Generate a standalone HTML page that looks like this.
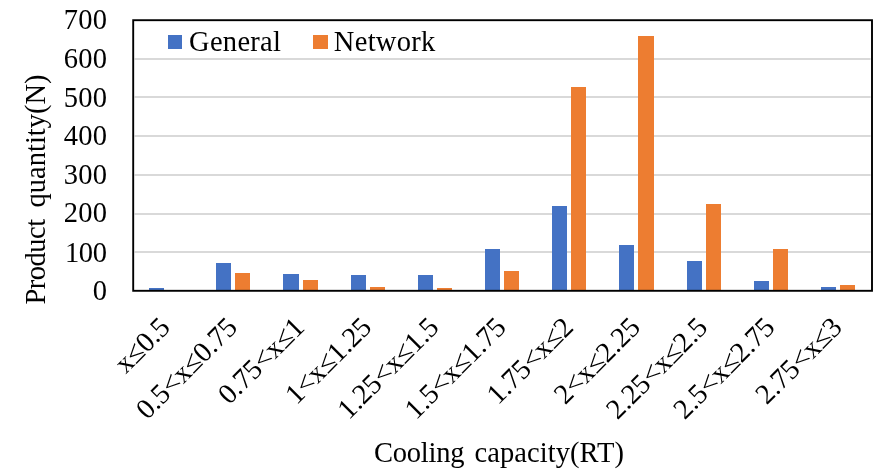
<!DOCTYPE html>
<html lang="en">
<head>
<meta charset="utf-8">
<title>Product quantity by cooling capacity</title>
<style>
html,body{margin:0;padding:0;background:#fff;}
body{width:886px;height:473px;overflow:hidden;}
svg{display:block;}
text{font-family:"Liberation Serif",serif;fill:#000;}
</style>
</head>
<body>
<svg width="886" height="473" viewBox="0 0 886 473">
<rect x="0" y="0" width="886" height="473" fill="#ffffff"/>
<rect x="134.6" y="58" width="736" height="2" fill="#d9d9d9"/>
<rect x="134.6" y="96" width="736" height="2" fill="#d9d9d9"/>
<rect x="134.6" y="135" width="736" height="2" fill="#d9d9d9"/>
<rect x="134.6" y="174" width="736" height="2" fill="#d9d9d9"/>
<rect x="134.6" y="213" width="736" height="2" fill="#d9d9d9"/>
<rect x="134.6" y="251" width="736" height="2" fill="#d9d9d9"/>
<rect x="149" y="288" width="15" height="2" fill="#4472c4"/>
<rect x="216" y="263" width="15" height="27" fill="#4472c4"/>
<rect x="235" y="273" width="15" height="17" fill="#ed7d31"/>
<rect x="283" y="274" width="16" height="16" fill="#4472c4"/>
<rect x="303" y="280" width="15" height="10" fill="#ed7d31"/>
<rect x="351" y="275" width="15" height="15" fill="#4472c4"/>
<rect x="370" y="287" width="15" height="3" fill="#ed7d31"/>
<rect x="418" y="275" width="15" height="15" fill="#4472c4"/>
<rect x="437" y="288" width="15" height="2" fill="#ed7d31"/>
<rect x="485" y="249" width="15" height="41" fill="#4472c4"/>
<rect x="504" y="271" width="15" height="19" fill="#ed7d31"/>
<rect x="552" y="206" width="15" height="84" fill="#4472c4"/>
<rect x="571" y="87" width="15" height="203" fill="#ed7d31"/>
<rect x="619" y="245" width="15" height="45" fill="#4472c4"/>
<rect x="638" y="36" width="16" height="254" fill="#ed7d31"/>
<rect x="687" y="261" width="15" height="29" fill="#4472c4"/>
<rect x="706" y="204" width="15" height="86" fill="#ed7d31"/>
<rect x="754" y="281" width="15" height="9" fill="#4472c4"/>
<rect x="773" y="249" width="15" height="41" fill="#ed7d31"/>
<rect x="821" y="287" width="15" height="3" fill="#4472c4"/>
<rect x="840" y="285" width="15" height="5" fill="#ed7d31"/>
<rect x="133.2" y="20.2" width="738.8" height="270.6" fill="none" stroke="#000" stroke-width="1.9"/>
<rect x="168" y="35" width="14" height="14" fill="#4472c4"/>
<text x="189" y="51" font-size="28.5" letter-spacing="0.3">General</text>
<rect x="313" y="35" width="15" height="14" fill="#ed7d31"/>
<text x="333.8" y="51" font-size="28.5" letter-spacing="0.3">Network</text>
<text x="107.30" y="28.8" font-size="28.5" letter-spacing="0.3" text-anchor="end">700</text>
<text x="107.30" y="68.2" font-size="28.5" letter-spacing="0.3" text-anchor="end">600</text>
<text x="107.30" y="106.6" font-size="28.5" letter-spacing="0.3" text-anchor="end">500</text>
<text x="107.30" y="144.9" font-size="28.5" letter-spacing="0.3" text-anchor="end">400</text>
<text x="107.30" y="183.6" font-size="28.5" letter-spacing="0.3" text-anchor="end">300</text>
<text x="107.30" y="222.4" font-size="28.5" letter-spacing="0.3" text-anchor="end">200</text>
<text x="106.65" y="261.6" font-size="28.5" letter-spacing="-0.35" text-anchor="end">100</text>
<text x="107.00" y="299.8" font-size="28.5" letter-spacing="0" text-anchor="end">0</text>
<text transform="translate(45.2 304.5) rotate(-90)" font-size="28.5"><tspan x="0" letter-spacing="-0.5">Product </tspan><tspan x="97.1">quantity(N)</tspan></text>
<text y="461.5" font-size="28.5"><tspan x="374" letter-spacing="-0.23">Cooling </tspan><tspan x="474.5" letter-spacing="0.07">capacity(RT)</tspan></text>
<text transform="translate(171.4 329) rotate(-45)" font-size="28.5" letter-spacing="-0.22" text-anchor="end">x≤0.5</text>
<text transform="translate(238.6 329) rotate(-45)" font-size="28.5" letter-spacing="-0.22" text-anchor="end">0.5&lt;x≤0.75</text>
<text transform="translate(305.8 329) rotate(-45)" font-size="28.5" letter-spacing="-0.22" text-anchor="end">0.75&lt;x≤1</text>
<text transform="translate(373.0 329) rotate(-45)" font-size="28.5" letter-spacing="-0.22" text-anchor="end">1&lt;x≤1.25</text>
<text transform="translate(440.2 329) rotate(-45)" font-size="28.5" letter-spacing="-0.22" text-anchor="end">1.25&lt;x≤1.5</text>
<text transform="translate(507.4 329) rotate(-45)" font-size="28.5" letter-spacing="-0.22" text-anchor="end">1.5&lt;x≤1.75</text>
<text transform="translate(574.6 329) rotate(-45)" font-size="28.5" letter-spacing="-0.22" text-anchor="end">1.75&lt;x≤2</text>
<text transform="translate(641.8 329) rotate(-45)" font-size="28.5" letter-spacing="-0.22" text-anchor="end">2&lt;x≤2.25</text>
<text transform="translate(709.0 329) rotate(-45)" font-size="28.5" letter-spacing="-0.22" text-anchor="end">2.25&lt;x≤2.5</text>
<text transform="translate(776.2 329) rotate(-45)" font-size="28.5" letter-spacing="-0.22" text-anchor="end">2.5&lt;x≤2.75</text>
<text transform="translate(843.4 329) rotate(-45)" font-size="28.5" letter-spacing="-0.22" text-anchor="end">2.75&lt;x≤3</text>
</svg>
</body>
</html>
